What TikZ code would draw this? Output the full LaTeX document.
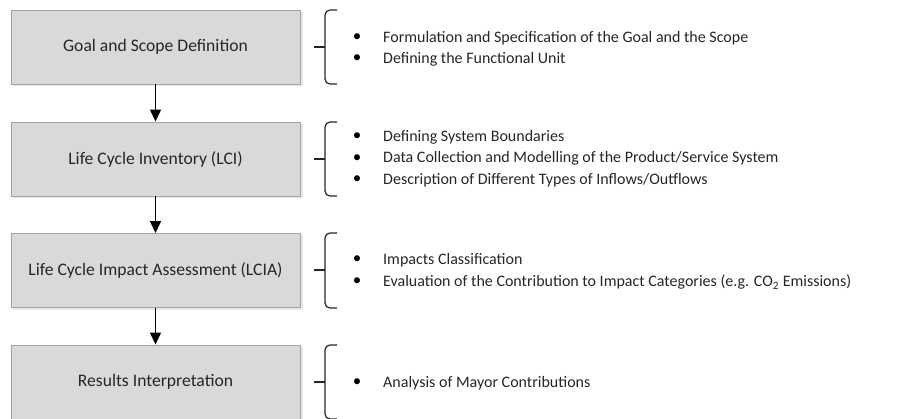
\documentclass[tikz,border=0pt]{standalone}
\usepackage{fontspec}
\setmainfont{Carlito}
\usetikzlibrary{arrows.meta}
\definecolor{boxfill}{HTML}{D9D9D9}
\definecolor{boxline}{HTML}{A3A3A3}
\definecolor{shadowc}{HTML}{E3E8EE}
\definecolor{txt}{HTML}{262626}
\tikzset{
  stage/.style={draw=boxline, line width=0.9pt, fill=boxfill, minimum width=289pt, minimum height=74pt, inner sep=0pt, font=\fontsize{17.6}{20}\selectfont, text=txt},
  flow/.style={line width=1.3pt, -{Triangle[width=11pt,length=12pt]}},
  brk/.style={line width=1.2pt, draw=black!85, rounded corners=5pt},
  item/.style={anchor=west, inner sep=0pt, font=\fontsize{16}{19}\selectfont, text=txt},
  bul/.style={inner sep=0pt, font=\fontsize{17}{19}\selectfont}
}
\begin{document}
\begin{tikzpicture}[x=1pt,y=-1pt]
\useasboundingbox (0,0) rectangle (902,419);
% shadows
\foreach \c in {47,159,270.5,382}{
  \fill[shadowc] (13,\c-35) rectangle (302.5,\c+39.5);
}
\node[stage] (s1) at (155.5,47) {Goal and Scope Definition};
\node[stage] (s2) at (155.5,159) {Life Cycle Inventory (LCI)};
\node[stage] (s3) at (155.5,270.5) {Life Cycle Impact Assessment (LCIA)};
\node[stage] (s4) at (155.5,382) {Results Interpretation};
\draw[flow] (s1) -- (s2);
\draw[flow] (s2) -- (s3);
\draw[flow] (s3) -- (s4);
% brackets
\foreach \t/\b/\m in {10/84/47,122/196/159,233/308/270,345/419/382}{
  \draw[brk] (337,\t) -- (325,\t) -- (325,\b) -- (337,\b);
  \draw[line width=1.2pt, draw=black!85] (314,\m) -- (325,\m);
}
% items
\node[bul] (b11) at (357,38) {•};
\node[item] (t11) at (383,38) {Formulation and Specification of the Goal and the Scope};
\node[bul] (b12) at (357,59) {•};
\node[item] (t12) at (383,59) {Defining the Functional Unit};
\node[bul] (b21) at (357,137) {•};
\node[item] (t21) at (383,137) {Defining System Boundaries};
\node[bul] (b22) at (357,158.5) {•};
\node[item] (t22) at (383,158.5) {Data Collection and Modelling of the Product/Service System};
\node[bul] (b23) at (357,180) {•};
\node[item] (t23) at (383,180) {Description of Different Types of Inflows/Outflows};
\node[bul] (b31) at (357,260) {•};
\node[item] (t31) at (383,260) {Impacts Classification};
\node[bul] (b32) at (357,282) {•};
\node[item] (t32) at (383,282) {Evaluation of the Contribution to Impact Categories (e.g. CO\textsubscript{2} Emissions)};
\node[bul] (b41) at (357,383) {•};
\node[item] (t41) at (383,383) {Analysis of Mayor Contributions};
\end{tikzpicture}
\end{document}
